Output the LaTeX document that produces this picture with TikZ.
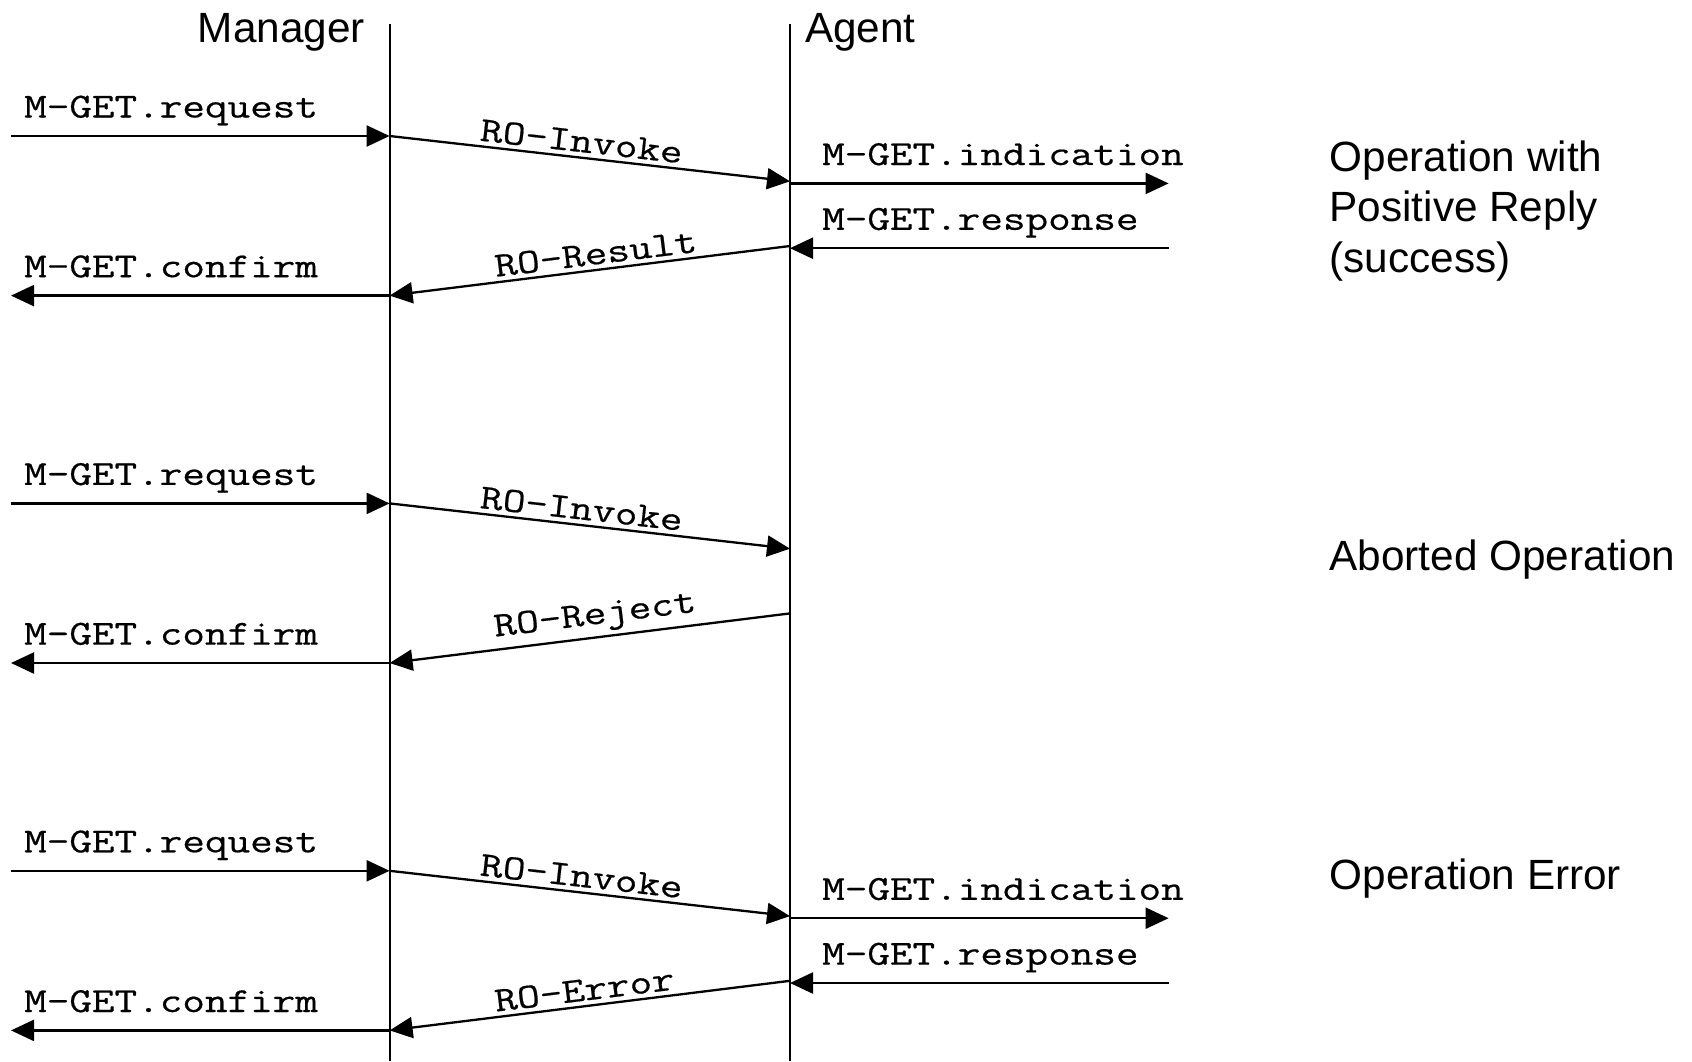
\documentclass[tikz,border=0pt]{standalone}
\usepackage{fontspec}
\setmainfont{Liberation Sans}
\newfontfamily\rmono[FakeStretch=1.25,FakeBold=0.5]{Latin Modern Mono}
\usetikzlibrary{arrows.meta}
\begin{document}
\begin{tikzpicture}[x=1pt,y=-1pt,
  lifeline/.style={line width=2pt},
  msg/.style={line width=2.3pt,-{Triangle[length=23pt,width=21pt]}},
  monolbl/.style={font=\fontsize{35.1}{38}\selectfont\rmono,inner sep=0pt},
  sanslbl/.style={font=\fontsize{42.3}{50.5}\selectfont,inner sep=0pt},
  rolbl/.style={font=\fontsize{35.1}{38}\selectfont\rmono,inner sep=4pt,sloped}]
\useasboundingbox (0,0) rectangle (1692,1061);
% lifelines
\coordinate (mtop) at (389.6,24);
\coordinate (mbot) at (389.6,1061);
\coordinate (atop) at (790,24);
\coordinate (abot) at (790,1061);
\draw[lifeline] (mtop) -- (mbot);
\draw[lifeline] (atop) -- (abot);
\node[sanslbl,anchor=base east] (manager) at (365,42) {Manager};
\node[sanslbl,anchor=base west] (agent) at (805,42) {Agent};
% groups
\foreach \g/\dy in {1/0,2/367.4,3/734.8}{
  \coordinate (L1\g) at (11,136+\dy);
  \coordinate (M1\g) at (389.6,136+\dy);
  \coordinate (A1\g) at (790,181.3+\dy);
  \coordinate (A2\g) at (790,246+\dy);
  \coordinate (M2\g) at (389.6,295.6+\dy);
  \coordinate (L2\g) at (11,295.6+\dy);
  \draw[msg] (L1\g) -- (M1\g);
  \node[monolbl,anchor=base west] (req\g) at (24,117.5+\dy) {M-GET.request};
  \draw[msg] (M1\g) -- node[rolbl,pos=0.21,anchor=south west] (inv\g) {RO-Invoke} (A1\g);
  \draw[msg] (M2\g) -- (L2\g);
  \node[monolbl,anchor=base west] (conf\g) at (24,277.2+\dy) {M-GET.confirm};
}
% group 1 & 3 agent side
\foreach \g/\dy in {1/0,3/734.8}{
  \coordinate (R1\g) at (1168.6,183.4+\dy);
  \coordinate (R2\g) at (1168.6,248.2+\dy);
  \coordinate (A3\g) at (790,183.4+\dy);
  \coordinate (A4\g) at (790,248.2+\dy);
  \draw[msg] (A3\g) -- (R1\g);
  \node[monolbl,anchor=base west] (ind\g) at (822,165+\dy) {M-GET.indication};
  \draw[msg] (R2\g) -- (A4\g);
  \node[monolbl,anchor=base west] (resp\g) at (822,229.8+\dy) {M-GET.response};
}
\draw[msg] (A21) -- node[rolbl,pos=0.745,anchor=south west] (res1) {RO-Result} (M21);
\draw[msg] (A22) -- node[rolbl,pos=0.745,anchor=south west] (rej2) {RO-Reject} (M22);
\draw[msg] (A23) -- node[rolbl,pos=0.745,anchor=south west] (err3) {RO-Error} (M23);
% right descriptions
\node[sanslbl,anchor=west,align=left] (d1) at (1329.4,211) {Operation with\\Positive Reply\\(success)};
\node[sanslbl,anchor=west] (d2) at (1329.4,559.7) {Aborted Operation};
\node[sanslbl,anchor=west] (d3) at (1329.4,879) {Operation Error};
\end{tikzpicture}
\end{document}
